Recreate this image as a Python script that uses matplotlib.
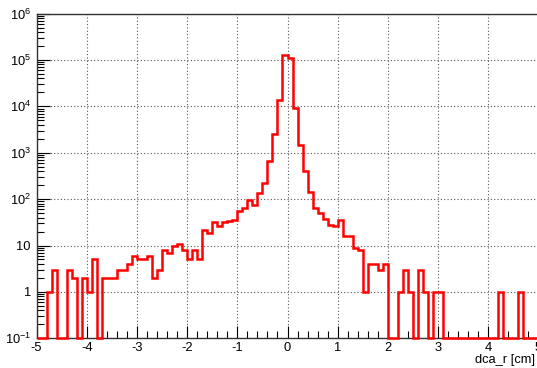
import numpy as np
import matplotlib
matplotlib.use("Agg")
from matplotlib import pyplot as plt
from matplotlib.ticker import LogLocator, NullFormatter, FixedLocator, MultipleLocator

# histogram of dca_r, 100 bins from -5 to 5 cm
x_min, x_max, n_bins = -5.0, 5.0, 100
counts = [
    0, 0, 1, 3, 0, 0, 3, 2, 0, 2,
    1, 5, 0, 2, 2, 2, 3, 3, 4, 6,
    5, 5, 6, 2, 3, 8, 7, 10, 11, 8,
    5, 8, 5, 22, 19, 32, 27, 32, 34, 36,
    56, 64, 95, 74, 135, 220, 680, 2600, 13700, 128000,
    109000, 9200, 1500, 410, 144, 63, 50, 37, 28, 27,
    36, 16, 16, 9, 8, 1, 4, 4, 3, 4,
    0, 0, 1, 3, 1, 0, 3, 1, 0, 1,
    1, 0, 0, 0, 0, 0, 0, 0, 0, 0,
    0, 0, 1, 0, 0, 0, 1, 0, 0, 0,
]
y_ticks = [0.1, 1, 10, 1e2, 1e3, 1e4, 1e5, 1e6]
y_tick_labels = [r"$\mathregular{10^{-1}}$", "1", "10", r"$\mathregular{10^{2}}$",
                 r"$\mathregular{10^{3}}$", r"$\mathregular{10^{4}}$",
                 r"$\mathregular{10^{5}}$", r"$\mathregular{10^{6}}$"]
x_label = "dca_r [cm]"

plt.rcParams["font.family"] = ["Liberation Sans", "DejaVu Sans"]
plt.rcParams["mathtext.fontset"] = "custom"
plt.rcParams["mathtext.rm"] = "Liberation Sans"
plt.rcParams["axes.unicode_minus"] = False

fig = plt.figure(figsize=(5.37, 3.68), dpi=100)
ax = fig.add_axes([0.068, 0.0807, 0.9348, 0.8823])

edges = np.linspace(x_min, x_max, n_bins + 1)
y_min = 0.1
# empty bins sit on the bottom of the frame, like ROOT does in log scale
shown = np.where(np.array(counts) > 0, counts, y_min)
ax.stairs(shown, edges, baseline=None, color="#ff0000", lw=1.8, clip_on=False, zorder=3)

ax.set_yscale("log")
ax.set_xlim(x_min, x_max)
ax.set_ylim(y_min, 1e6)

ax.yaxis.set_major_locator(FixedLocator(y_ticks))
ax.set_yticklabels(y_tick_labels)
ax.yaxis.set_minor_locator(LogLocator(base=10, subs=np.arange(2, 10), numticks=20))
ax.yaxis.set_minor_formatter(NullFormatter())
ax.xaxis.set_major_locator(MultipleLocator(1))
ax.xaxis.set_minor_locator(MultipleLocator(0.2))

ax.tick_params(which="both", direction="in", top=False, right=False,
               labelsize=9.3, colors="black", width=0.8)
ax.tick_params(which="major", length=9, pad=3)
ax.tick_params(which="minor", length=5)
ax.tick_params(axis="y", pad=4)

ax.grid(True, which="major", color="#555555", linestyle=(0, (1, 2)), lw=0.8)
for s in ax.spines.values():
    s.set_linewidth(1.0)
    s.set_color("#333333")

fig.text(535 / 537, 1 - 360 / 368, x_label, ha="right", va="center", fontsize=9.3)

fig.savefig("out.png", dpi=100)
